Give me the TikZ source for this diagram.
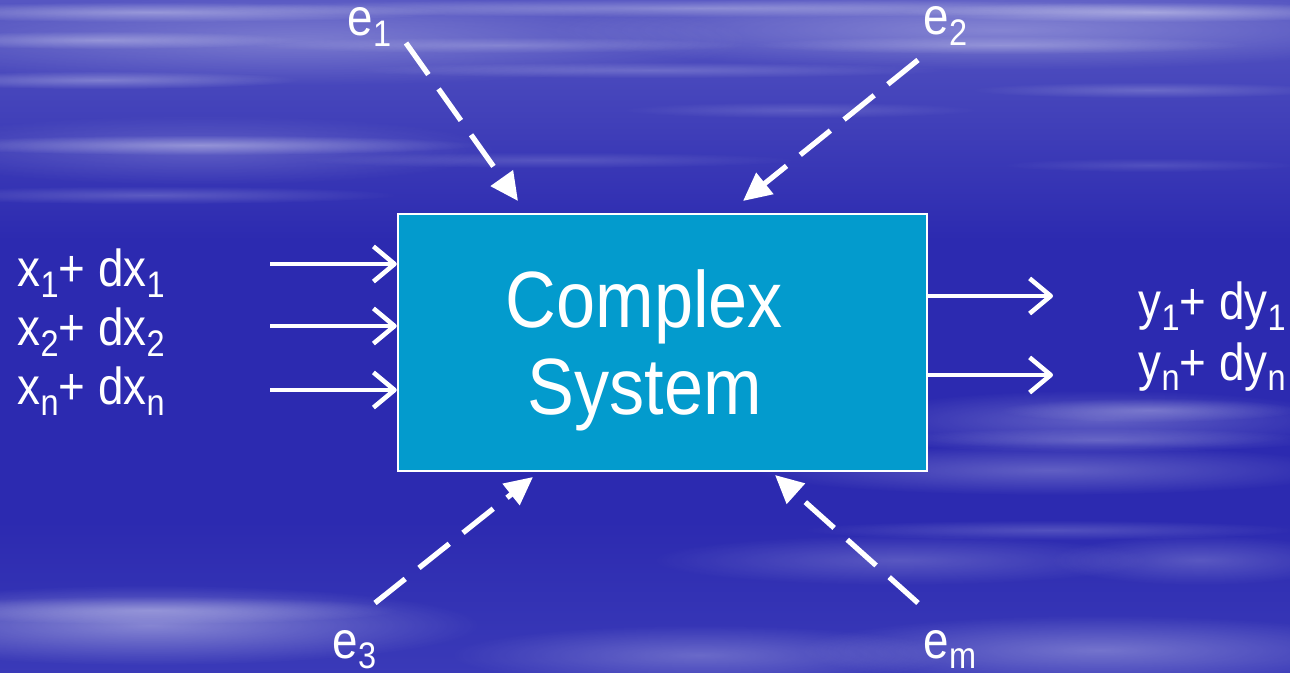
\documentclass[tikz,border=0pt]{standalone}
\usepackage{fontspec}
\setmainfont{Liberation Sans}
\usetikzlibrary{arrows.meta,fadings}

\definecolor{skytop}{HTML}{5656C2}
\definecolor{skymid}{HTML}{2C2AB0}
\definecolor{skylow}{HTML}{3A3AB8}
\definecolor{boxblue}{HTML}{039BCD}

\tikzfading[name=soft edge, inner color=transparent!0, outer color=transparent!100]

% subscripts and slightly condensed text
\newcommand{\lo}[1]{\raisebox{-3pt}{\fontsize{10.5}{10.5}\selectfont #1}}
\newcommand{\slim}[1]{\scalebox{0.88}[1]{#1}}

\begin{document}
\begin{tikzpicture}[x=0.01cm,y=-0.01cm,
  sysbox/.style={draw=white, line width=0.6pt, fill=boxblue,
    minimum width=5.29cm, minimum height=2.57cm, inner sep=0pt},
  systext/.style={text=white, inner sep=0pt,
    font=\fontsize{22.7}{24.7}\selectfont},
  lbl/.style={text=white, inner sep=0pt, anchor=base west,
    font=\fontsize{14.8}{16}\selectfont},
  flow/.style={draw=white, line width=1.3pt,
    -{Straight Barb[length=6pt,width=10pt,line join=round]}},
  dist/.style={draw=white, line width=1.5pt, dash pattern=on 11pt off 5pt,
    -{Triangle[length=8pt,width=7.5pt]}}]
\useasboundingbox (0,0) rectangle (1290,673);

% sky
\fill[skymid] (0,0) rectangle (1290,673);
\shade[top color=skytop, bottom color=skymid] (0,0) rectangle (1290,240);
\shade[top color=skymid, bottom color=skylow] (0,520) rectangle (1290,673);
% broad haze
\foreach \cx/\cy/\rx/\ry/\op in {
  300/40/450/45/.25, 1000/30/450/40/.3, 200/150/300/35/.18,
  150/625/330/40/.4, 700/655/250/30/.25, 1100/650/300/35/.3,
  1100/420/250/30/.25, 1050/470/300/25/.25, 900/560/250/25/.2,
  1200/560/150/25/.2} {
  \fill[white, opacity=\op, path fading=soft edge]
    (\cx,\cy) ellipse [x radius=\rx*0.01cm, y radius=\ry*0.01cm];
}
% thin streaks
\foreach \cx/\cy/\rx/\ry/\op in {
  150/12/300/10/.35, 700/8/500/9/.3, 1150/12/250/10/.4,
  100/40/200/9/.3, 500/45/250/8/.2, 1000/45/250/9/.25,
  100/80/200/9/.3, 650/70/300/8/.2, 1150/90/180/8/.2,
  200/145/280/10/.35, 550/160/250/8/.15, 800/110/180/8/.15,
  150/195/250/9/.2, 1150/165/150/7/.12,
  150/610/250/14/.3, 1100/440/220/12/.22, 1050/530/250/10/.18,
  1150/410/150/12/.25} {
  \fill[white, opacity=\op, path fading=soft edge]
    (\cx,\cy) ellipse [x radius=\rx*0.01cm, y radius=\ry*0.01cm];
}

\node[sysbox] (sys) at (662.5,342.5) {};
\node[systext, xshift=-0.18cm, yshift=-0.11cm] (name) at (sys.center)
  {\slim{\begin{tabular}{@{}c@{}}Complex\\System\end{tabular}}};

% inputs
\node[lbl] (x1) at (17,287) {\slim{x\lo{1}+ dx\lo{1}}};
\node[lbl] (x2) at (17,346) {\slim{x\lo{2}+ dx\lo{2}}};
\node[lbl] (xn) at (17,405) {\slim{x\lo{n}+ dx\lo{n}}};
\foreach \n/\y in {i1/264, i2/326, in/390} {
  \coordinate (\n) at (270,\y);
  \draw[flow] (\n) -- (\n -| sys.west);
}

% outputs
\node[lbl] (y1) at (1138,320) {\slim{y\lo{1}+ dy\lo{1}}};
\node[lbl] (yn) at (1138,380) {\slim{y\lo{n}+ dy\lo{n}}};
\foreach \n/\y in {o1/296, on/375} {
  \coordinate (\n) at (1053,\y);
  \draw[flow] (sys.east |- \n) -- (\n);
}

% disturbances
\node[lbl] (e1) at (347,36) {\slim{e\lo{1}}};
\node[lbl] (e2) at (923,35) {\slim{e\lo{2}}};
\node[lbl] (e3) at (332,658) {\slim{e\lo{3}}};
\node[lbl] (em) at (923,658) {\slim{e\lo{m}}};
\coordinate (e1s) at (406,43);  \coordinate (e1t) at (518,201);
\coordinate (e2s) at (918,60);  \coordinate (e2t) at (743,201);
\coordinate (e3s) at (375,603); \coordinate (e3t) at (533,477);
\coordinate (ems) at (918,603); \coordinate (emt) at (775,475);
\foreach \e in {e1,e2,e3,em} {
  \draw[dist] (\e s) -- (\e t);
}

\end{tikzpicture}
\end{document}
